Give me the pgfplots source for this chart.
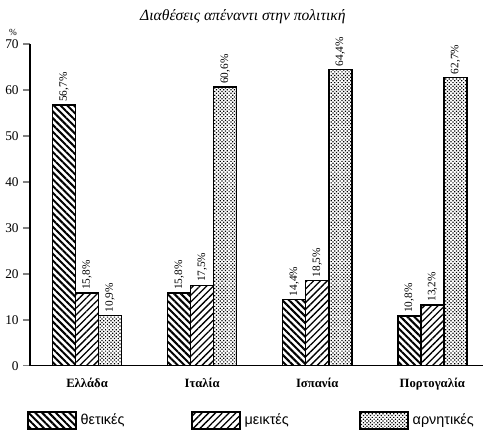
\documentclass[border=0pt]{standalone}
\usepackage{fontspec}
\setmainfont{Liberation Serif}
\newfontfamily\lsans{Liberation Sans}
\usepackage{pgfplots}
\pgfplotsset{compat=1.18}
\usetikzlibrary{patterns.meta}

\tikzset{
  hatchpos/.style={pattern={Lines[angle=-45,distance=3.6pt,line width=1.5pt]}},
  hatchmix/.style={pattern={Lines[angle=45,distance=3.6pt,line width=1pt]}},
  hatchneg/.style={pattern={Dots[angle=45,distance=1.9pt,radius=0.65pt]}},
}

\begin{document}
\begin{tikzpicture}
\begin{axis}[
    scale only axis,
    width=340pt, height=241.5pt,
    ymin=0, ymax=70,
    xmin=-0.496, xmax=3.44,
    axis lines=left,
    axis line style={-, line width=1.1pt},
    ytick={0,10,...,70},
    y tick style={line width=1.1pt},
    tick align=outside,
    major tick length=5pt,
    xtick={0,1,2,3},
    xticklabels={Ελλάδα,Ιταλία,Ισπανία,Πορτογαλία},
    x tick style={draw=none},
    xticklabel style={font=\bfseries\fontsize{9.5}{11}\selectfont, yshift=-1pt},
    yticklabel style={font=\fontsize{10}{12}\selectfont},
    /pgf/number format/assume math mode=true,
    ybar=0pt,
    bar width=0.2,
    nodes near coords={\pgfmathprintnumber[fixed,fixed zerofill,precision=1,use comma]{\pgfplotspointmeta}\%},
    every node near coord/.append style={rotate=90, anchor=west, font=\fontsize{8.5}{10}\selectfont, black, inner sep=2pt},
    legend columns=3,
    legend style={draw=none, inner sep=0pt, at={(-0.0066,-0.14)}, anchor=north west,
        font=\lsans\fontsize{10.8}{12}\selectfont,
        nodes={inner sep=0pt},
        /tikz/every odd column/.append style={column sep=3pt},
        /tikz/every even column/.append style={column sep=0pt}},
    legend cell align=left,
    legend image code/.code={\draw[#1, line width=1.1pt] (0pt,-6.5pt) rectangle (36pt,6.5pt);},
    clip=false,
]
\addplot[draw=black, line width=1.1pt, hatchpos] coordinates {(0,56.7) (1,15.8) (2,14.4) (3,10.8)};
\addlegendentry{\makebox[83pt][l]{θετικές}}
\addplot[draw=black, line width=1.1pt, hatchmix] coordinates {(0,15.8) (1,17.5) (2,18.5) (3,13.2)};
\addlegendentry{\makebox[86pt][l]{μεικτές}}
\addplot[draw=black, line width=1.1pt, hatchneg] coordinates {(0,10.9) (1,60.6) (2,64.4) (3,62.7)};
\addlegendentry{αρνητικές}
\node[font=\itshape\fontsize{11.7}{14}\selectfont] at (axis description cs:0.47,1.084) {Διαθέσεις απέναντι στην πολιτική};
\node[font=\scriptsize] at (axis description cs:-0.0375,1.037) {\%};
\coordinate (bl) at (rel axis cs:0,0);
\coordinate (tr) at (rel axis cs:1,1);
\end{axis}
\pgfresetboundingbox
\path[use as bounding box] ([xshift=-22.5pt,yshift=-49.5pt]bl) rectangle ([xshift=1.5pt,yshift=33pt]tr);
\end{tikzpicture}
\end{document}
